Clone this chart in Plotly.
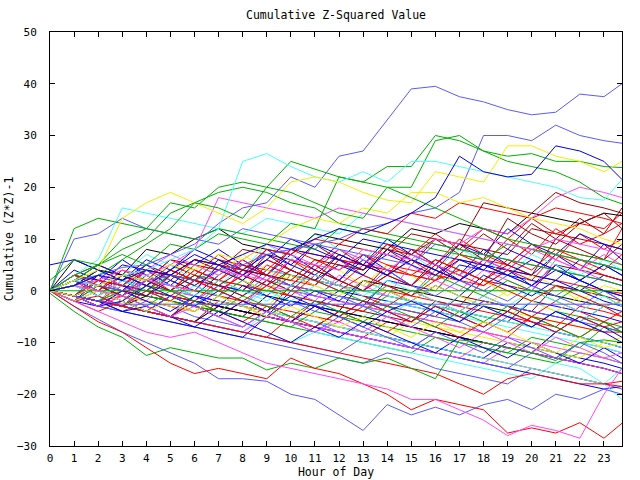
import plotly.graph_objects as go

hours = list(range(24)) + [23.75]

R, G, LB, B, M, C, Y, DR, K = ("#ff0000", "#00b000", "#5a5aff", "#0000e6",
                               "#ff48ff", "#48ffff", "#f0f000", "#a00000", "#000000")

series_colors = [
    # mid / lower mass
    R, B, DR, LB, C, Y, R, B, G, M, C, LB, B, R, K, B, R, DR, B, LB, M, G, C, R, B,
    Y, R, B, DR, C, LB, K, G, M, R, R,
    # dense zig-zag band
    R, B, DR, LB, R, B, M, C, Y, K, R, B, G, DR, B, R, LB, C, R, B, Y, M, R, B, G, DR, LB, R,
    B, LB, B, R, B, C, R, B, M, Y,
    # horizontal
    G, LB,
    # low prominent
    G, LB, R, M,
    # upper
    LB, C, G, M, G, R, DR, M,
    LB, LB, G, G, C, Y, Y, G, B,
]

series_values = [
    [0,-1,-2,1,0,-1,2,1,0,-1,3,2,1,0,5,4,3,2,1,4,3,2,1,0,-0.5],
    [0,-2,-3,0,-1,-2,-3,1,0,-1,-2,-3,0,-1,-2,-3,-4,-5,-2,-3,-4,-5,-6,-3,-4],
    [0,1,4,3,2,6,5,4,8,7,6,5,9,8,7,11,10,9,8,7,12,11,10,9,8],
    [0,-1,-3,-4,-2,-3,-5,-6,-7,-4,-5,-6,-8,-9,-10,-11,-8,-9,-10,-11,-12,-13,-10,-11,-12],
    [0,2,1,0,-1,-2,-3,1,0,-1,-2,-3,-4,-5,-2,-3,-4,-5,-6,-7,-8,-9,-10,-11,-12],
    [0,-1,-2,-3,-1,-2,0,-1,-2,-3,1,0,-1,-2,-3,-4,-5,-6,-3,-4,-5,-6,-7,-8,-7],
    [0,-1,-2,-3,-4,-5,-2,-3,-4,-5,-6,-7,-8,-9,-6,-7,-8,-9,-10,-11,-12,-8,-9,-10,-11],
    [0,-1,2,1,0,3,2,1,0,4,3,2,1,0,-1,-2,-3,-4,-5,-6,-2,-3,-4,-5,-6],
    [0,-1,-2,0,-1,-2,-3,-4,-5,-6,-7,-8,-9,-10,-11,-12,-9,-10,-11,-12,-13,-14,-12,-13,-14],
    [0,-1,-2,-3,-4,-5,-6,-3,-4,-5,-6,-7,-8,-9,-10,-11,-12,-13,-14,-11,-12,-13,-14,-15,-16],
    [0,-1,-2,-3,-4,-5,-6,-7,-8,-9,-10,-8,-9,-10,-11,-12,-13,-14,-15,-16,-17,-14,-15,-18,-15],
    [0,-1,-3,-4,-5,-6,-7,-8,-9,-10,-11,-12,-13,-14,-12,-13,-15,-16,-17,-18,-15,-16,-17,-18,-19],
    [0,-1,-2,-4,-5,-6,-7,-8,-9,-5,-6,-7,-8,-9,-10,-11,-12,-13,-14,-15,-16,-17,-18,-19,-18.5],
    [0,-1,-2,-1,2,1,0,-1,4,3,2,1,6,5,4,3,2,7,6,5,9,8,7,6,12],
    [0,-1,-2,-3,-1,-2,-3,-4,-5,-1,-2,-3,-4,2,1,0,-1,-2,-3,-4,0,-1,-2,-3,-2],
    [0,-1,-2,-3,-4,-5,-2,-3,-4,-5,0,-1,-2,-3,2,1,0,5,4,3,2,1,0,3,2],
    [0,1,0,-1,-2,-3,-4,-1,-2,-3,-4,-5,-6,-3,-4,-5,-6,-7,-8,-9,-5,-6,-7,-8,-8],
    [0,-1,-2,-3,-4,-5,-6,-2,-3,-4,1,0,-1,-2,-3,-4,-5,-1,-2,-3,-4,1,0,-1,-2],
    [0,3,2,1,0,-1,-2,-3,-4,-5,-2,-3,-4,-5,-6,-7,-8,-9,-10,-11,-12,-8,-9,-10,-11],
    [0,-1,-2,-3,1,0,-1,-2,-3,2,1,0,-1,-2,-3,-4,-5,-6,-2,-3,-4,-5,-6,-7,-8],
    [0,-1,-2,2,1,0,-1,-2,-3,1,0,-1,-2,-3,-4,-5,-6,-7,-8,-9,-10,-11,-12,-13,-14],
    [0,-1,-2,-3,1,0,3,2,1,0,-1,-2,-3,-4,-1,-2,-3,-4,-5,-6,-7,-4,-5,-6,-7],
    [0,-1,-2,2,1,3,2,1,5,4,3,2,1,0,-1,-2,-3,-4,-5,-6,-7,-8,-9,-10,-11],
    [0,-1,-2,-3,-4,-5,-6,-7,-8,-9,-5,-6,-7,-8,-9,-10,-11,-12,-13,-14,-15,-16,-17,-18,-18.5],
    [0,-1,-2,-3,-4,-5,-1,-2,-3,-4,-5,-6,-7,-8,-9,-10,-11,-12,-13,-10,-11,-12,-13,-14,-15],
    [0,1,0,-1,-2,-3,-4,-2,-3,-4,-5,-6,-7,-8,-9,-6,-7,-8,-9,-10,-11,-12,-13,-10,-9],
    [0,2,1,0,4,3,2,6,5,4,8,7,6,5,4,3,2,6,5,4,8,7,6,5,4],
    [0,-1,1,5,4,3,6,5,4,3,8,7,6,10,9,8,7,6,5,4,3,2,6,5,4],
    [0,-1,-2,-3,-4,-1,-2,-3,-4,-5,-6,-2,-3,-4,-5,-6,-2,-3,2,1,0,5,4,3,2],
    [0,-1,-2,-3,-4,-5,-6,-7,-8,-4,-5,-6,-7,-8,-9,-10,-11,-12,-13,-14,-15,-16,-17,-18,-21],
    [0,-1,-2,-3,-4,-5,-6,-7,-8,-9,-10,-11,-12,-9,-10,-11,-12,-13,-14,-15,-12,-13,-14,-15,-16],
    [0,-1,-2,-3,-4,-5,-6,-3,-4,-5,-6,-7,-4,-5,-6,-7,-8,-9,-10,-11,-12,-13,-14,-15,-16],
    [0,-1,-2,0,-1,-2,-3,-4,-5,-6,-7,-4,-5,-6,-7,-8,-9,-10,-11,-12,-9,-10,-11,-7,-8],
    [0,-1,-2,-3,-4,-5,-6,-7,-8,-5,-6,-7,-8,-9,-10,-11,-12,-13,-10,-11,-12,-13,-14,-15,-16],
    [0,3,2,1,0,-1,-2,2,1,0,-1,-2,-3,-4,0,-1,-2,-3,-4,-5,-6,-7,-3,-4,-5],
    [0,-1,-2,-3,-4,-5,-6,-7,-8,-9,-10,-11,-12,-13,-14,-15,-16,-18,-20,-17,-16,-17,-18,-18,-17.5],
    # dense zig-zag band
    [0,2,-1,3,1,5,3,7,4,2,6,4,8,5,9,7,11,8,12,10,14,11,13,12,15],
    [0,-2,2,0,4,1,-1,3,6,3,1,5,2,7,4,1,5,3,8,5,3,7,4,9,6],
    [0,1,3,1,5,2,6,4,2,7,4,9,6,3,8,5,10,7,11,8,13,10,14,11,16],
    [0,3,1,-1,4,2,0,5,2,-1,3,1,6,3,1,-1,4,2,0,3,1,-1,2,0,-2],
    [0,-2,1,-1,3,0,4,2,0,5,3,1,6,4,9,6,3,7,5,10,7,12,9,11,13],
    [0,4,2,6,3,1,5,8,5,3,7,4,2,6,3,8,5,2,6,4,1,5,2,0,-1],
    [0,-1,2,0,-2,3,1,-1,4,2,0,-2,3,1,-1,5,2,0,4,2,0,6,4,2,1],
    [0,2,5,3,7,5,2,6,4,9,6,11,8,6,10,7,4,8,6,3,7,5,3,6,4],
    [0,-1,2,4,2,0,5,3,7,4,2,6,4,1,5,3,0,4,2,-1,3,1,-2,1,0],
    [0,6,4,3,8,7,10,12,9,8,7,11,10,9,8,12,11,13,12,11,15,14,13,15,14.5],
    [0,1,-1,2,0,4,2,0,3,1,6,3,1,5,3,8,5,10,7,5,9,6,11,8,10],
    [0,-1,3,1,-1,2,0,5,3,8,5,3,7,5,10,7,5,9,7,12,9,7,11,9,8],
    [0,1,4,2,0,3,1,-1,2,0,4,2,0,-2,1,-1,3,1,-1,2,0,-2,1,-1,-3],
    [0,2,0,3,1,4,2,6,3,1,4,2,7,5,3,6,4,9,6,14,11,9,13,15,12],
    [0,-1,-3,0,-2,-4,-1,-3,1,-1,-3,0,-2,2,0,-2,1,-1,3,1,-1,2,0,-2,-3],
    [0,3,1,-1,2,0,4,2,6,3,1,5,2,0,3,1,5,3,1,4,2,7,5,3,2],
    [0,-2,0,-2,2,0,-2,1,-1,3,1,-1,2,0,4,1,-1,2,0,-2,1,-1,-3,0,-2],
    [0,1,-1,2,0,-2,1,-1,-3,0,-2,1,-1,-3,-5,-2,-4,-1,-3,-5,-2,-4,-6,-3,-5],
    [0,-1,-3,-1,-3,-5,-2,-4,-6,-3,-5,-7,-4,-6,-8,-5,-7,-9,-6,-8,-5,-7,-9,-6,-8],
    [0,2,0,-2,1,-1,-3,0,-2,-4,-1,-3,-5,-2,-4,-6,-3,-5,-7,-4,-6,-8,-5,-7,-9],
    [0,2,4,2,5,3,1,4,2,0,3,1,-1,2,0,-2,1,-1,-3,0,-2,-4,-1,-3,-2],
    [0,1,3,1,4,7,5,3,6,9,7,5,8,6,4,7,5,3,6,4,8,6,4,7,5],
    [0,-2,-4,-2,-4,-1,-3,-5,-2,-4,-6,-3,-5,-2,-4,-6,-3,-5,-7,-4,-6,-8,-5,-7,-6],
    [5,6,4,2,5,3,1,4,2,6,4,2,5,3,8,6,4,2,5,3,6,4,2,5,3],
    [0,-2,1,-1,-3,0,-2,-4,-1,-3,-5,-2,-4,-6,-3,-5,-7,-4,-6,-3,-5,-7,-9,-6,-8],
    [0,-1,1,-1,2,0,3,1,-1,2,0,4,2,0,3,1,6,4,2,5,3,10,8,6,9],
    [0,1,-1,-3,0,-2,-4,-1,-3,-5,-2,-4,-1,-3,-5,-7,-4,-6,-8,-5,-7,-4,-6,-8,-7],
    [0,2,0,4,2,6,4,2,5,3,8,6,4,7,5,3,6,4,2,6,4,8,6,4,7],
    [0,-1,-3,-2,-4,-1,-3,-5,-2,-4,-6,-3,-5,-7,-4,-2,-4,-6,-3,-5,-7,-4,-6,-8,-10],
    [0,2,0,-2,-4,-1,-3,-5,-7,-4,-6,-8,-5,-7,-9,-11,-8,-10,-12,-9,-11,-13,-10,-12,-14],
    [0,1,4,2,6,4,8,6,4,7,5,9,7,5,3,6,4,2,5,3,1,4,2,0,-1],
    [0,-2,-1,-3,0,-2,2,0,-2,1,-1,3,1,-1,-3,0,-2,-4,-1,-3,-5,-2,-4,-6,-4],
    [0,-1,-2,-4,-3,-5,-7,-4,-6,-8,-10,-7,-9,-6,-8,-10,-12,-9,-11,-13,-10,-12,-14,-11,-13],
    [0,1,-1,1,3,1,-1,2,0,-2,1,3,1,-1,2,0,-2,-4,-1,-3,0,-2,-4,-1,-3],
    [0,3,5,3,1,4,2,0,3,6,4,2,0,3,1,-1,2,4,2,0,-2,1,-1,-3,-5],
    [0,2,5,3,1,4,7,5,3,6,10,8,6,4,7,5,3,6,4,8,6,4,2,5,3],
    [0,-1,-3,-1,-3,-5,-3,-5,-7,-4,-6,-8,-6,-8,-5,-7,-9,-11,-8,-10,-12,-9,-11,-13,-12],
    [0,-2,0,-2,-4,-2,-4,-1,-3,-5,-3,-5,-7,-5,-7,-9,-6,-8,-6,-8,-10,-12,-9,-11,-10],
    # horizontal lines
    [0,0,0,0,0,0,0,0,0,0,0,0,0,0,0,0,0,0,0,0,0,0,0,0,0],
    [0,-1,-2,-2.6,-2.6,-2.6,-2.6,-2.6,-2.6,-2.6,-2.6,-2.6,-2.6,-2.6,-2.6,-2.6,-2.6,-2.6,-2.6,-2.6,-2.6,-2.6,-2.6,-2.6,-2.6],
    # low prominent
    [-0.5,-4,-7,-9,-12.5,-11,-12,-13,-13,-15.3,-14,-15,-13,-14,-13,-15,-17,-9.5,-10,-11,-12,-13.5,-10,-9.5,-10],
    [0,-3,-5.5,-8,-10,-12,-14,-17,-17,-17.5,-20,-21,-24,-27,-22,-24,-22.5,-24,-22,-21,-23,-20,-21,-19,-20],
    [0,-3,-6,-8,-11,-14,-16,-15,-16,-17,-13,-15,-16,-18,-20,-23,-21,-22,-23,-27.5,-26.5,-27.5,-25.5,-28.5,-25.6],
    [0,-2,-4,-6,-8,-9,-8,-10,-12,-14,-15,-16,-17,-18,-19,-21,-21,-23,-25,-28,-26,-27,-28.5,-20,-15],
    # upper
    [0,10,11,14,12,11,10,9,12,11,10,9,8,7,6,5,9,8,7,6,5,4,3,2,1],
    [0,3,6,16,15,14,13,12,11,14,13,12,11,15,14,13,12,11,10,9,8,7,6,5,4],
    [0,12,14,13,12,11,10,12,11,10,9,8,12,11,10,9,8,7,6,9,8,7,6,5,4],
    [0,1,2,4,3,5,8,18,17,16,15,14,16,15,14,13,12,11,10,9,8,10,9,8,7],
    [0,2,5,8,10,15,17,19,20,19,17,16,13,12,11,10,9,8,7,6,5,4,3,2,1],
    [0,-1,2,1,4,3,6,5,4,8,7,10,9,12,11,15,14,17,16,15,14,16,15,14,13],
    [0,-1,1,0,-1,3,2,1,4,3,2,6,5,4,8,7,10,9,17,16,15,19,17,16,15],
    [0,1,0,-1,2,1,0,4,3,2,6,5,4,8,7,6,10,9,12,11,14,18,20,19,18],
    [0,2,3,4.5,5,7,9,13,16,17,22,20,26,27,33,39,39.5,37.5,36.5,35,34,34.5,38,37.5,40],
    [0,-1,1,0,2,3,2,4,5,7,8,9,10,12,13,15,16,19,30,30,29,32,30,29,28.5],
    [0,3,5,10,12,17,16,20,21,20,25,23.5,22,21,24,24,30,29,27,25,24,23,21,18,16.8],
    [2,6,5,7,5,9,8,11,10,9,13,12,22,21,20,20,29,30,27,26,26.5,25,25,24,23.8],
    [0,2,1,3,4,6,8,12,25,26.5,24,22,21,23,21,25,25,24,23,22,21,20,18,17.5,21.5],
    [0,2,4,14,17,19,17,15,13,16,21,22,21,19,17.5,17,23,22,21,28,28,26,25,23,25],
    [0,-1,1,3,2,5,4,7,6,9,12,14,13,16,15,19,19,17,18,16,14,13,12,10,9],
    [0,1,3,6,9,12,17,16,14,20,19,17,15,14,20,18,16,14,12,10,9,8,7,6,5],
    [0,1,3,2,4,3,6,5,7,9,8,10,12,11,13,15,18,26,23,22,22.5,28,27,25,21.5],
]

assert len(series_colors) == len(series_values), (len(series_colors), len(series_values))
for i, v in enumerate(series_values):
    assert len(v) == len(hours), (i, len(v))

fig = go.Figure()
for vals, col in zip(series_values, series_colors):
    fig.add_trace(go.Scatter(x=hours, y=vals, mode="lines",
                             line=dict(color=col, width=1), hoverinfo="skip"))

font = "DejaVu Sans Mono, monospace"
fig.update_layout(
    width=640, height=480,
    margin=dict(l=50, r=18, t=32, b=34),
    paper_bgcolor="white", plot_bgcolor="white",
    showlegend=False,
    font=dict(family=font, size=11.5, color="black"),
    title=dict(text="Cumulative Z-Squared Value", x=0.525, xanchor="center",
               y=0.968, yanchor="middle", font=dict(family=font, size=11.5)),
)
fig.update_xaxes(range=[0, 23.75], tickmode="linear", tick0=0, dtick=1,
                 ticks="inside", ticklen=5, tickcolor="black", ticklabelstandoff=2,
                 tickfont=dict(family=font, size=11),
                 showline=True, linecolor="black", linewidth=1, mirror="ticks",
                 showgrid=False, zeroline=False, automargin=False,
                 title=dict(text="Hour of Day", standoff=3, font=dict(family=font, size=11.5)))
fig.update_yaxes(range=[-30, 50], tickmode="linear", tick0=-30, dtick=10,
                 ticks="inside", ticklen=5, tickcolor="black", ticklabelstandoff=10,
                 tickfont=dict(family=font, size=11),
                 showline=True, linecolor="black", linewidth=1, mirror="ticks",
                 showgrid=False, zeroline=False, automargin=False,
                 title=dict(text="Cumulative (Z*Z)-1", standoff=0, font=dict(family=font, size=11.5)))

fig.write_html("out.html")
